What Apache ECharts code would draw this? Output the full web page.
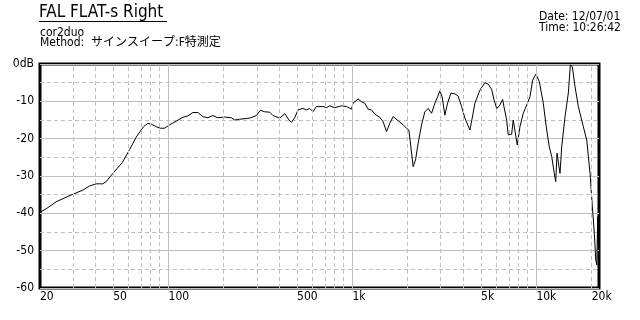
<!DOCTYPE html>
<html>
<head>
<meta charset="utf-8">
<script src="https://cdn.jsdelivr.net/npm/echarts@6/dist/echarts.min.js"></script>
<style>
html,body{margin:0;padding:0;background:#fff;}
#chart{width:640px;height:320px;}
</style>
</head>
<body>
<div id="chart"></div>
<script>
// Frequency (Hz) and level (dB)
var freqs = [20,21.6,24.5,30.1,34.2,37.1,40.4,43.9,45.8,49.8,
  56,61.3,66.7,73.1,77.2,80.5,82.1,85.7,90.1,95.1,
  101.3,110.1,119.6,127.4,135.6,144.4,147.5,153.7,163.7,174.3,
  185.5,201.8,219.4,228.7,243.5,276.1,300.2,315.7,333.2,354.6,
  369.6,402,428,437.2,451.7,465.5,485.2,505.7,538.4,561.8,
  585.5,610.3,636.8,691.6,721.7,752.2,801,871.2,927.6,987.4,
  1007,1073,1119,1167,1216,1269,1323,1408,1468,1532,
  1596,1664,1771,1886,1968,2026,2077,2138,2203,2276,
  2375,2475,2579,2692,2806,2903,2987,3074,3180,3289,
  3428,3605,3757,3921,4087,4351,4478,4632,4931,5250,
  5472,5710,5877,6079,6281,6555,6663,6892,7031,7337,
  7485,7647,7870,8142,8485,8854,9229,9546,9949,10370,
  10902,11377,11755,12115,12515,12736,12946,13157,13441,13731,
  14312,14917,15295,15683,16223,16909,18002,18786,19578,20152,
  20662,21029,21292,21563,21650,21720,21800,21900];
var levels = [-39.7,-38.8,-36.9,-34.9,-33.8,-32.7,-32.1,-32.1,-31.5,-29.3,
  -26.4,-23.0,-19.6,-16.8,-15.9,-16.1,-15.9,-16.8,-17.2,-17.2,
  -16.3,-15.3,-14.3,-13.9,-13.0,-13.0,-13.5,-14.1,-14.4,-13.8,
  -14.4,-14.2,-14.4,-15.0,-14.8,-14.5,-13.8,-12.4,-12.8,-12.9,
  -13.8,-14.5,-13.3,-13.7,-15.0,-15.6,-14.4,-12.3,-11.9,-12.3,
  -11.9,-12.8,-11.4,-11.4,-11.7,-11.2,-11.7,-11.2,-11.4,-12.1,
  -10.5,-9.4,-10.1,-10.5,-12.1,-12.3,-13.4,-14.3,-15.5,-18.1,
  -15.9,-14.1,-15.2,-16.3,-17.2,-17.7,-22.2,-27.5,-25.7,-21.2,
  -16.3,-12.8,-11.9,-13.2,-10.5,-8.8,-7.2,-8.8,-13.7,-10.5,
  -7.8,-8.0,-8.6,-11.4,-14.5,-17.7,-14.5,-10.5,-7.0,-5.0,
  -5.4,-6.8,-9.5,-11.9,-11.3,-9.5,-11.4,-15.0,-19.0,-18.8,
  -15.0,-14.5,-21.7,-16.8,-13.2,-11.0,-8.8,-4.3,-2.7,-4.7,
  -10.5,-17.7,-22.2,-24.8,-29.3,-31.5,-23.9,-23.5,-29.3,-22.2,
  -14.1,-7.8,-0.3,-0.7,-6.1,-11.4,-16.8,-20.4,-29.3,-38.2,
  -45.4,-52.5,-53.8,-40.9,-48,-41,-48.5,-40.5];

var xTickLabels = [20,50,100,500,1000,5000,10000,20000];
var xMajorGrid = [100,1000,10000];
var xMinorGrid = [30,40,50,60,70,80,90,200,300,400,500,600,700,800,900,
  2000,3000,4000,5000,6000,7000,8000,9000,20000];
var fMin = 20, fMax = 21900;
var yMin = -60, yMax = 0, yStep = 10;

var titleText = 'FAL FLAT-s Right';
var subLine1 = 'cor2duo';
var subLine2 = 'Method:  サインスイープ:F特測定';
var dateLine = 'Date: 12/07/01';
var timeLine = 'Time: 10:26:42';

var FONT = "'Liberation Sans Narrow','DejaVu Sans Condensed','Noto Sans CJK JP',sans-serif";
var lg = function(f){ return Math.log10(f); };

var curve = freqs.map(function(f,i){ return [lg(f), levels[i]]; });
var gridLines = [];
xMinorGrid.forEach(function(f){
  gridLines.push({xAxis: lg(f), lineStyle:{color:'#c0c0c0', type:[4,3], width:1}});
});
xMajorGrid.forEach(function(f){
  gridLines.push({xAxis: lg(f), lineStyle:{color:'#c0c0c0', type:'solid', width:1}});
});

var chart = echarts.init(document.getElementById('chart'), null, {renderer:'canvas'});
chart.setOption({
  backgroundColor:'#ffffff',
  animation:false,
  grid:{left:40, right:41, top:64, bottom:32, show:true, borderColor:'#000', borderWidth:3, backgroundColor:'transparent', containLabel:false},
  xAxis:{
    type:'value', min:lg(fMin), max:lg(fMax),
    axisLine:{show:false}, axisTick:{show:false}, splitLine:{show:false},
    axisLabel:{
      customValues: xTickLabels.map(lg),
      margin:3, align:'left',
      fontFamily:FONT, fontSize:12, color:'#000',
      formatter:function(v){
        var f = Math.round(Math.pow(10,v));
        return f >= 1000 ? (f/1000)+'k' : String(f);
      }
    }
  },
  yAxis:{
    type:'value', min:yMin, max:yMax, interval:yStep,
    axisLine:{show:false}, axisTick:{show:false},
    splitLine:{show:true, lineStyle:{color:'#c0c0c0', width:1}},
    minorTick:{show:false, splitNumber:2},
    minorSplitLine:{show:true, lineStyle:{color:'#c0c0c0', type:[4,3], width:1}},
    axisLabel:{
      margin:6, fontFamily:FONT, fontSize:12, color:'#000',
      formatter:function(v){ return v === 0 ? '0dB' : String(v); }
    }
  },
  series:[
    {type:'line', data:[], silent:true, z:1,
     markLine:{silent:true, symbol:['none','none'], label:{show:false}, animation:false, data:gridLines}},
    {type:'line', data:curve, z:3, showSymbol:false, symbol:'none',
     lineStyle:{color:'#000', width:1}, silent:true}
  ],
  graphic:[
    {type:'text', left:39, top:4, style:{text:titleText, font:"17px "+FONT, fill:'#000'}},
    {type:'line', shape:{x1:39, y1:21.5, x2:167, y2:21.5}, style:{stroke:'#000', lineWidth:1}},
    {type:'text', left:40, top:27, style:{text:subLine1, font:"12px "+FONT, fill:'#000'}},
    {type:'text', left:40, top:37, style:{text:subLine2, font:"12px "+FONT, fill:'#000'}},
    {type:'text', left:539, top:11, style:{text:dateLine, font:"12px "+FONT, fill:'#000'}},
    {type:'text', left:539, top:22, style:{text:timeLine, font:"12px "+FONT, fill:'#000'}}
  ]
});
</script>
</body>
</html>
